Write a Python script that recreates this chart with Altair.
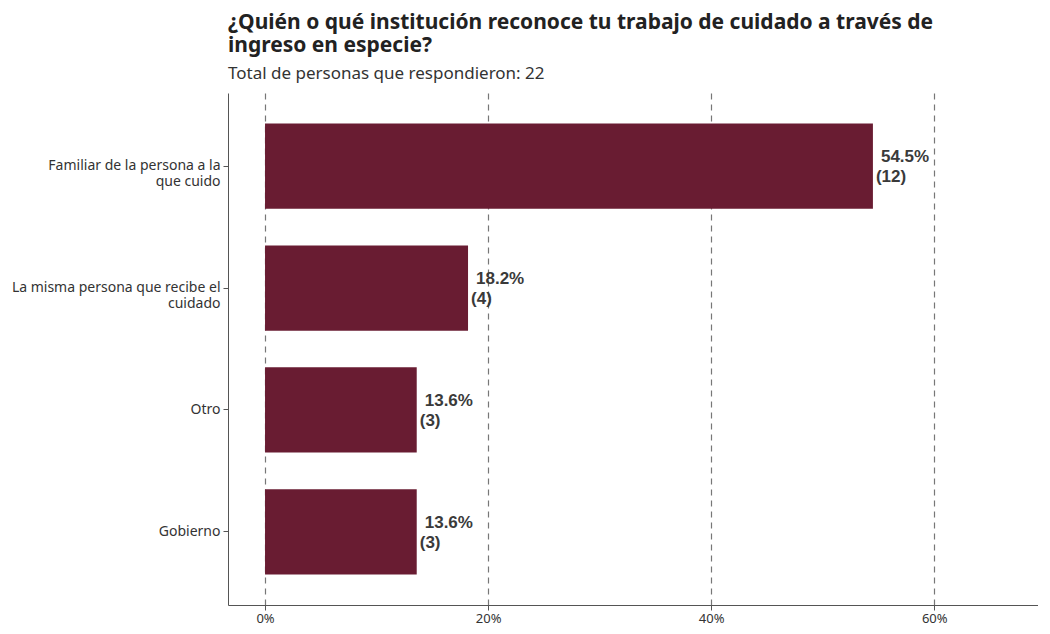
import altair as alt
import pandas as pd

categories = ["Familiar de la persona a la\nque cuido",
              "La misma persona que recibe el\ncuidado",
              "Otro",
              "Gobierno"]
counts = [12, 4, 3, 3]
total = 22
percents = [54.5, 18.2, 13.6, 13.6]
x_ticks = [0, 20, 40, 60]

df = pd.DataFrame({
    "cat": categories,
    "pct": percents,
    "pct_label": [f"{p:.1f}%" for p in percents],
    "n_label": [f"({c})" for c in counts],
})

FONT = "Noto Sans"
x_scale = alt.Scale(domain=[-3.32, 69.3], nice=False, zero=False)
y_scale = alt.Scale(paddingInner=0.3, paddingOuter=0.25)

y_enc = alt.Y("cat:N", sort=categories, title=None, scale=y_scale,
              axis=alt.Axis(labelExpr="split(datum.label, '\\n')", labelFont=FONT,
                            labelFontSize=14, labelColor="#333333", labelLineHeight=16,
                            labelLimit=400, domainColor="#555555", tickColor="#555555",
                            tickSize=5, labelPadding=3, grid=False))

bars = alt.Chart(df).mark_bar(color="#691C32").encode(
    x=alt.X("pct:Q", scale=x_scale, title=None,
            axis=alt.Axis(values=x_ticks, labelExpr="datum.value + '%'", labelFont=FONT,
                          labelFontSize=13, labelColor="#333333", domainColor="#555555",
                          tickColor="#555555", tickSize=5, labelPadding=2,
                          grid=True, gridColor="#777777", gridDash=[6, 5], gridWidth=1.2)),
    x2=alt.datum(0),
    y=y_enc,
)

text_style = dict(align="left", baseline="middle", font="Liberation Sans", fontSize=17,
                  fontWeight="bold", color="#3a3a3a")

pct_text = alt.Chart(df).mark_text(dx=8, dy=-9, **text_style).encode(
    x=alt.X("pct:Q", scale=x_scale),
    y=alt.Y("cat:N", sort=categories, scale=y_scale),
    text="pct_label:N",
)
n_text = alt.Chart(df).mark_text(dx=3, dy=11, **text_style).encode(
    x=alt.X("pct:Q", scale=x_scale),
    y=alt.Y("cat:N", sort=categories, scale=y_scale),
    text="n_label:N",
)

chart = alt.layer(bars, pct_text, n_text).properties(
    width=810, height=512,
    title=alt.Title(
        text=["¿Quién o qué institución reconoce tu trabajo de cuidado a través de",
              "ingreso en especie?"],
        subtitle="Total de personas que respondieron: 22",
        anchor="start", frame="group", font=FONT, fontSize=21, fontWeight="bold",
        color="#222222", lineHeight=23, subtitleFont=FONT, subtitleFontSize=17,
        subtitleColor="#333333", subtitlePadding=10, offset=11,
    ),
    autosize=alt.AutoSizeParams(type="none"),
    padding={"left": 220, "top": 85, "right": 0, "bottom": 21},
).configure_view(stroke=None)

chart.save("out.html", embed_options={"renderer": "svg", "actions": False})
